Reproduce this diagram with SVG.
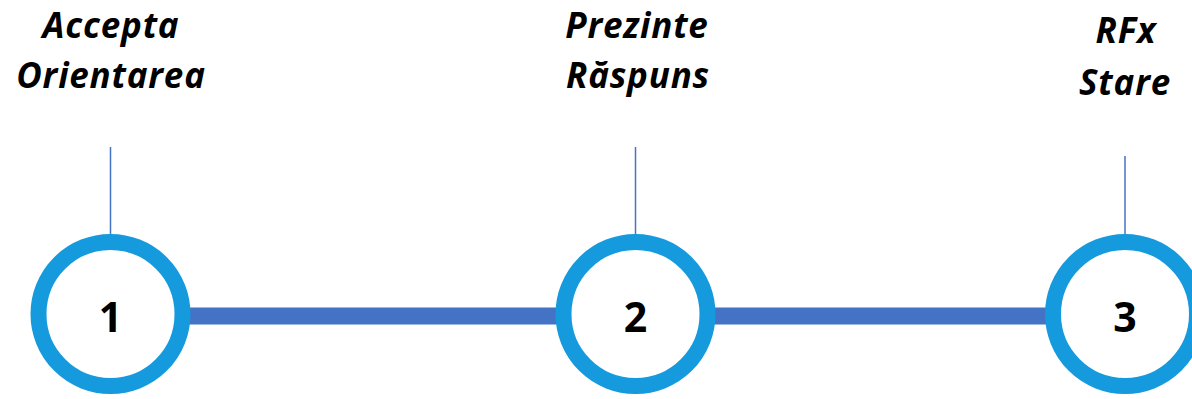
<svg xmlns="http://www.w3.org/2000/svg" width="1192" height="399" viewBox="0 0 1192 399">
<style>
.lbl{font-family:"Open Sans","Liberation Sans",sans-serif;font-weight:bold;font-style:italic;font-size:35px;letter-spacing:0.8px;fill:#000;text-anchor:middle}
.num{font-family:"Open Sans","Liberation Sans",sans-serif;font-weight:bold;font-size:41px;fill:#000;text-anchor:middle}
.ring{fill:#fff;stroke:#159ADD;stroke-width:16}
.tick{stroke:#4472C4;stroke-width:1.5}
</style>
<g id="connectors">
<line x1="185" y1="316" x2="1050" y2="316" stroke="#4472C4" stroke-width="17"/>
<line class="tick" x1="110.5" y1="147" x2="110.5" y2="234"/>
<line class="tick" x1="635.5" y1="147" x2="635.5" y2="234"/>
<line class="tick" x1="1125" y1="156" x2="1125" y2="240"/>
</g>
<g id="node1">
<circle class="ring" cx="110.5" cy="314" r="72"/>
<text class="num" x="110.5" y="332">1</text>
<text class="lbl" x="111" y="38">Accepta</text>
<text class="lbl" x="111" y="88">Orientarea</text>
</g>
<g id="node2">
<circle class="ring" cx="635.5" cy="314" r="72"/>
<text class="num" x="635.5" y="332">2</text>
<text class="lbl" x="637" y="38">Prezinte</text>
<text class="lbl" x="638" y="88">Răspuns</text>
</g>
<g id="node3">
<circle class="ring" cx="1125" cy="314" r="72"/>
<text class="num" x="1125" y="332">3</text>
<text class="lbl" x="1126" y="43">RFx</text>
<text class="lbl" x="1125" y="95">Stare</text>
</g>
</svg>
